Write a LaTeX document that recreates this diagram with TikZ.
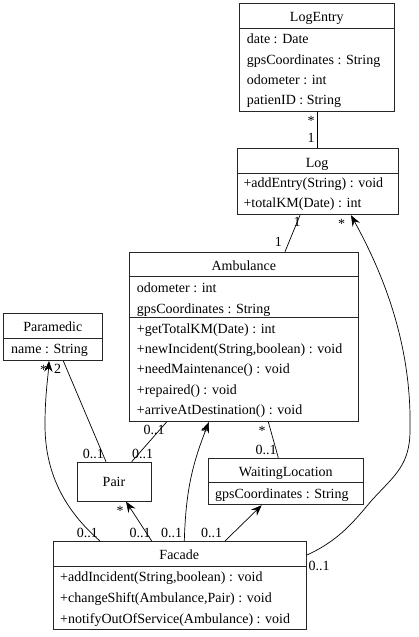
\documentclass[tikz,border=0pt]{standalone}
\usepackage{fontspec}
\setmainfont{Liberation Serif}
\usepackage{tikz}
\usetikzlibrary{arrows.meta}

\begin{document}
\begin{tikzpicture}[x=1pt, y=-1pt,
  font=\fontsize{14}{17}\selectfont,
  box/.style={draw=black!85, line width=0.9pt, inner sep=0, anchor=north west},
  sep/.style={draw=black!85, line width=0.9pt},
  head/.style={anchor=base, inner sep=0},
  txt/.style={anchor=base west, inner sep=0},
  lab/.style={anchor=base, inner sep=0},
  assoc/.style={line width=0.7pt},
  nav/.style={line width=0.7pt, -{Stealth[length=11pt, width=8.5pt, inset=4pt]}}]
\useasboundingbox (0,0) rectangle (418,637);

% class boxes
\node[box, minimum width=155pt, minimum height=108pt] (logentry) at (239.3,2.7) {};
\node[box, minimum width=161pt, minimum height=66pt] (log) at (236.7,148.3) {};
\node[box, minimum width=229pt, minimum height=169.3pt] (ambulance) at (129.3,251.7) {};
\node[box, minimum width=99pt, minimum height=47.3pt] (paramedic) at (3.3,312.7) {};
\node[box, minimum width=73.4pt, minimum height=39pt] (pair) at (77.3,461.7) {};
\node[box, minimum width=155pt, minimum height=46.6pt] (waiting) at (208.3,457.7) {};
\node[box, minimum width=253.3pt, minimum height=88.3pt] (facade) at (52.7,541) {};

% compartments
\draw[sep] (logentry.west |- 0,28.3) -- (logentry.east |- 0,28.3);
\draw[sep] (log.west |- 0,173.3) -- (log.east |- 0,173.3);
\draw[sep] (ambulance.west |- 0,276.7) -- (ambulance.east |- 0,276.7);
\draw[sep] (ambulance.west |- 0,317.7) -- (ambulance.east |- 0,317.7);
\draw[sep] (paramedic.west |- 0,338.3) -- (paramedic.east |- 0,338.3);
\draw[sep] (waiting.west |- 0,482.7) -- (waiting.east |- 0,482.7);
\draw[sep] (facade.west |- 0,566.7) -- (facade.east |- 0,566.7);

% LogEntry
\node[head] (logentry-name) at (316.8,21.7) {LogEntry};
\node[txt] (logentry-a1) at (246.7,43.5) {date : Date};
\node[txt] (logentry-a2) at (246.7,64) {gpsCoordinates : String};
\node[txt] (logentry-a3) at (246.7,84.3) {odometer : int};
\node[txt] (logentry-a4) at (246.7,104.5) {patienID : String};

% Log
\node[head] (log-name) at (317.2,167.3) {Log};
\node[txt] (log-o1) at (243.3,187.7) {+addEntry(String) : void};
\node[txt] (log-o2) at (243.3,207.7) {+totalKM(Date) : int};

% Ambulance
\node[head] (ambulance-name) at (243.8,270) {Ambulance};
\node[txt] (ambulance-a1) at (136.7,292.7) {odometer : int};
\node[txt] (ambulance-a2) at (136.7,313.3) {gpsCoordinates : String};
\node[txt] (ambulance-o1) at (136.7,333.3) {+getTotalKM(Date) : int};
\node[txt] (ambulance-o2) at (136.7,353.3) {+newIncident(String,boolean) : void};
\node[txt] (ambulance-o3) at (136.7,373.3) {+needMaintenance() : void};
\node[txt] (ambulance-o4) at (136.7,394.3) {+repaired() : void};
\node[txt] (ambulance-o5) at (136.7,414.5) {+arriveAtDestination() : void};

% Paramedic
\node[head] (paramedic-name) at (52.8,331) {Paramedic};
\node[txt] (paramedic-a1) at (11,353.3) {name : String};

% Pair
\node[head] (pair-name) at (114,486) {Pair};

% WaitingLocation
\node[head] (waiting-name) at (285.8,476) {WaitingLocation};
\node[txt] (waiting-a1) at (215,498.3) {gpsCoordinates : String};

% Facade
\node[head] (facade-name) at (179.3,559) {Facade};
\node[txt] (facade-o1) at (60,581.7) {+addIncident(String,boolean) : void};
\node[txt] (facade-o2) at (60,602.3) {+changeShift(Ambulance,Pair) : void};
\node[txt] (facade-o3) at (60,623.3) {+notifyOutOfService(Ambulance) : void};

% associations
\draw[assoc] (logentry) -- (log);
\node[lab] (m1) at (311,125) {*};
\node[lab] (m2) at (311,142.5) {1};

\draw[assoc] (log.south -| 300,0) -- (ambulance.north -| 285,0);
\node[lab] (m3) at (297,226.5) {1};
\node[lab] (m4) at (278.3,246.5) {1};

\draw[assoc] (paramedic.south -| 63.3,0) -- (pair.north -| 106,0);
\node[lab] (m5) at (57.5,373) {2};
\node[lab] (m6) at (93.3,458) {0..1};

\draw[assoc] (ambulance.south -| 166.7,0) -- (pair.north -| 131.7,0);
\node[lab] (m7) at (154,434) {0..1};
\node[lab] (m8) at (142.7,458) {0..1};

\draw[assoc] (ambulance.south -| 268.3,0) -- (waiting.north -| 278.3,0);
\node[lab] (m9) at (262,435.5) {*};
\node[lab] (m10) at (266,454) {0..1};

% navigable ends from Facade
\draw[nav] (facade.north -| 100,0) .. controls (62,508) and (45,470) .. (45,425)
  .. controls (45,395) and (48,378) .. (paramedic.south -| 49,0);
\node[lab] (m11) at (43.5,374) {*};
\node[lab] (m12) at (87.3,537) {0..1};

\draw[nav] (facade.north -| 151.7,0) -- (pair.south -| 126,0);
\node[lab] (m13) at (120,515) {*};
\node[lab] (m14) at (140,537) {0..1};

\draw[nav] (facade.north -| 184.3,0) to[bend left=10] (ambulance.south -| 209,0);
\node[lab] (m15) at (205,436.5) {*};
\node[lab] (m16) at (171.5,537) {0..1};

\draw[nav] (facade.north -| 225,0) -- (waiting.south -| 261.7,0);
\node[lab] (m17) at (211.7,537) {0..1};

\draw[nav] (facade.east |- 0,555) .. controls (340,540) and (355,520) .. (372,500)
  .. controls (395,475) and (410,465) .. (410,430)
  .. controls (412,340) and (380,268) .. (log.south -| 351,0);
\node[lab] (m18) at (341.7,228.5) {*};
\node[lab] (m19) at (319,570.5) {0..1};
\end{tikzpicture}
\end{document}
